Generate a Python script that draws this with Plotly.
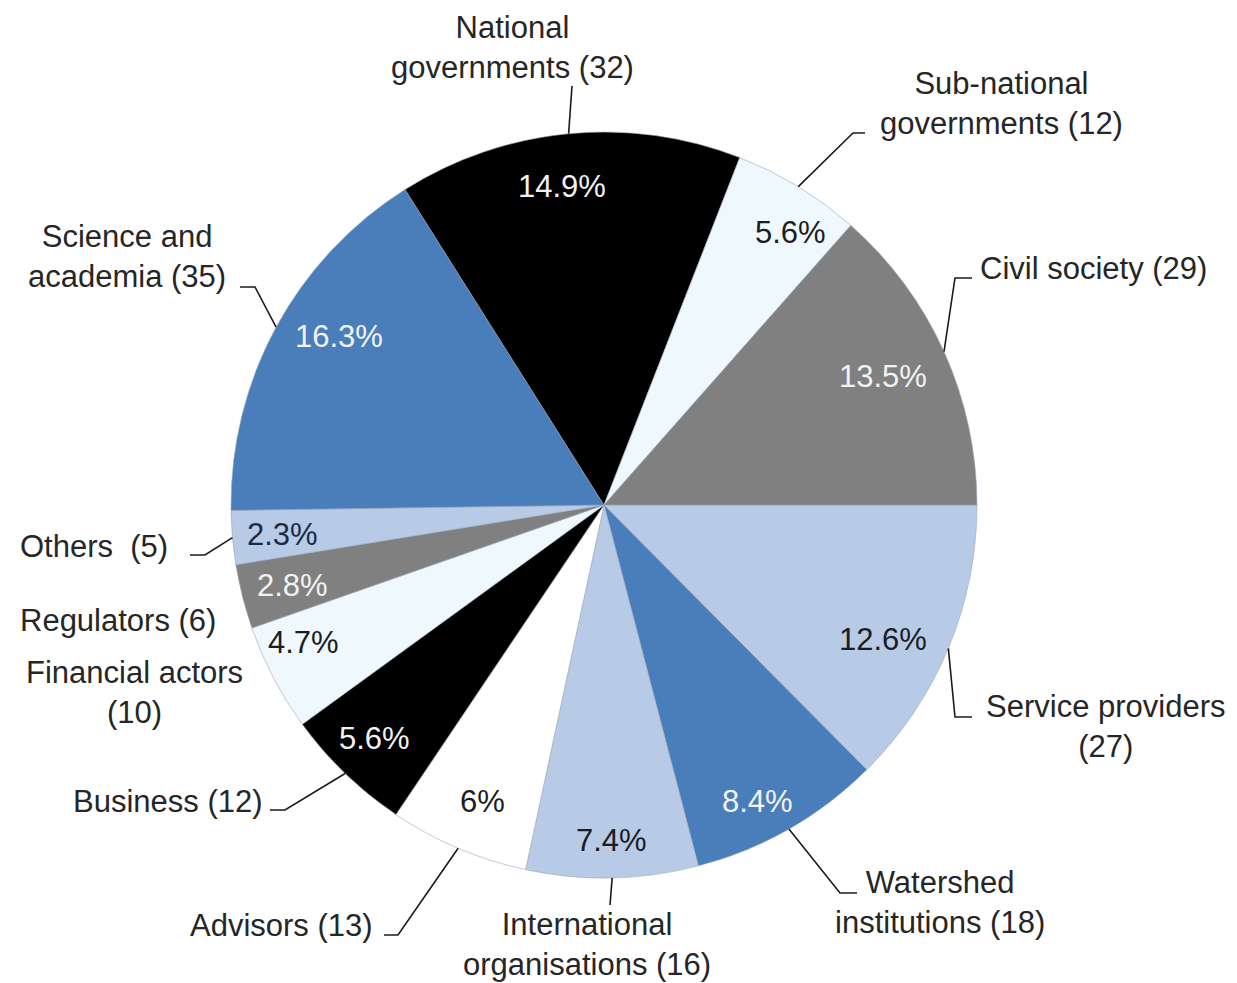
import math
import plotly.graph_objects as go

# ---------------- data ----------------
categories = [
    "Service providers", "Watershed institutions", "International organisations",
    "Advisors", "Business", "Financial actors", "Regulators", "Others",
    "Science and academia", "National governments", "Sub-national governments",
    "Civil society",
]
counts = [27, 18, 16, 13, 12, 10, 6, 5, 35, 32, 12, 29]
label_texts = [
    "Service providers<br>(27)", "Watershed<br>institutions (18)",
    "International<br>organisations (16)", "Advisors (13)", "Business (12)",
    "Financial actors<br>(10)", "Regulators (6)", "Others\u00a0 (5)",
    "Science and<br>academia (35)", "National<br>governments (32)",
    "Sub-national<br>governments (12)", "Civil society (29)",
]

# ---------------- style ----------------
LIGHT = "#b7cbe6"
BLUE = "#4a7ebb"
PALE = "#eef8fd"
GREY = "#808080"
colors = [LIGHT, BLUE, LIGHT, "#ffffff", "#000000", PALE, GREY, LIGHT,
          BLUE, "#000000", PALE, GREY]
pct_colors = ["#1c1c24", "#f2f2f2", "#1c1c24", "#1c1c24", "#f2f2f2", "#1c1c24",
              "#f2f2f2", "#1c2a48", "#f2f2f2", "#f2f2f2", "#1c1c24", "#f2f2f2"]

FONT = "Liberation Sans, Arial, sans-serif"
FS = 31
TXT = "#262626"

# percentage label placement: (fraction of radius, angle offset from slice middle in degrees)
pct_place = [
    (0.83, 3.2), (0.895, 2.3), (0.90, 0.0), (0.86, -0.8), (0.877, 0.6), (0.885, 3.1),
    (0.863, -0.2), (0.866, -0.3), (0.842, 4.0), (0.86, -2.1), (0.885, 2.9), (0.823, -0.5),
]

# outer label placement in page pixels: (x, y, xanchor) and leader points after the edge point
label_pos = [
    (1105, 726, "center"), (940, 902, "center"), (587, 944, "center"),
    (375, 925, "right"), (265, 801, "right"), (134, 692, "center"),
    (18, 620, "left"), (18, 546, "left"), (127, 256, "center"),
    (512, 48, "center"), (1002, 103, "center"), (978, 268, "left"),
]
leaders = [
    [(955, 717), (972, 717)],
    [(840, 893), (857, 893)],
    [(610, 905)],
    [(398, 935), (384, 935)],
    [(285, 810), (270, 810)],
    None,
    None,
    [(205, 555), (190, 555)],
    [(255, 287), (240, 287)],
    [(572, 86)],
    [(853, 133), (865, 133)],
    [(955, 278), (972, 278)],
]

OFF = 8                       # page body margin
W_PX, H_PX = 1237 - OFF, 983 - OFF
ML, MT, PLOT = 231, 132, 746  # pie box in page pixels
CX, CY, R = ML + PLOT / 2, MT + PLOT / 2, PLOT / 2
START_DEG = 90


def to_paper(px, py):
    return (px - ML) / PLOT, 1 - (py - MT) / PLOT


def edge(angle_deg, frac):
    a = math.radians(angle_deg)
    return CX + frac * R * math.sin(a), CY - frac * R * math.cos(a)


total = sum(counts)
fig = go.Figure(go.Pie(
    labels=categories, values=counts, sort=False, direction="clockwise",
    rotation=START_DEG, marker=dict(colors=colors, line=dict(color="#9aa8bb", width=0.6)),
    textinfo="none", hoverinfo="label+value+percent", showlegend=False,
    domain=dict(x=[0, 1], y=[0, 1]),
))

annotations = []
shapes = []
cum = 0
for i, n in enumerate(counts):
    mid = START_DEG + (cum + n / 2) / total * 360
    cum += n
    pct = n / total * 100
    s = f"{pct:.1f}"
    if s.endswith(".0"):
        s = s[:-2]
    frac, dang = pct_place[i]
    px, py = edge(mid + dang, frac)
    x, y = to_paper(px, py)
    annotations.append(dict(x=x, y=y, xref="paper", yref="paper", text=s + "%",
                            showarrow=False, xanchor="center", yanchor="middle",
                            font=dict(family=FONT, size=FS, color=pct_colors[i])))
    lx, ly, xa = label_pos[i]
    x, y = to_paper(lx, ly)
    annotations.append(dict(x=x, y=y, xref="paper", yref="paper", text=label_texts[i],
                            showarrow=False, xanchor=xa, yanchor="middle", align="center",
                            font=dict(family=FONT, size=FS, color=TXT)))
    if leaders[i]:
        pts = [edge(mid, 1.0)] + leaders[i]
        path = ""
        for k, (qx, qy) in enumerate(pts):
            u, v = to_paper(qx, qy)
            path += ("M" if k == 0 else " L") + f" {u:.5f},{v:.5f}"
        shapes.append(dict(type="path", path=path, xref="paper", yref="paper",
                           line=dict(color="#1a1a1a", width=1.6)))

fig.update_layout(
    width=W_PX, height=H_PX,
    margin=dict(l=ML - OFF, r=W_PX - (ML - OFF) - PLOT, t=MT - OFF,
                b=H_PX - (MT - OFF) - PLOT, autoexpand=False),
    paper_bgcolor="white", plot_bgcolor="white",
    annotations=annotations, shapes=shapes,
    font=dict(family=FONT, size=FS, color=TXT),
)

fig.write_html("out.html")
